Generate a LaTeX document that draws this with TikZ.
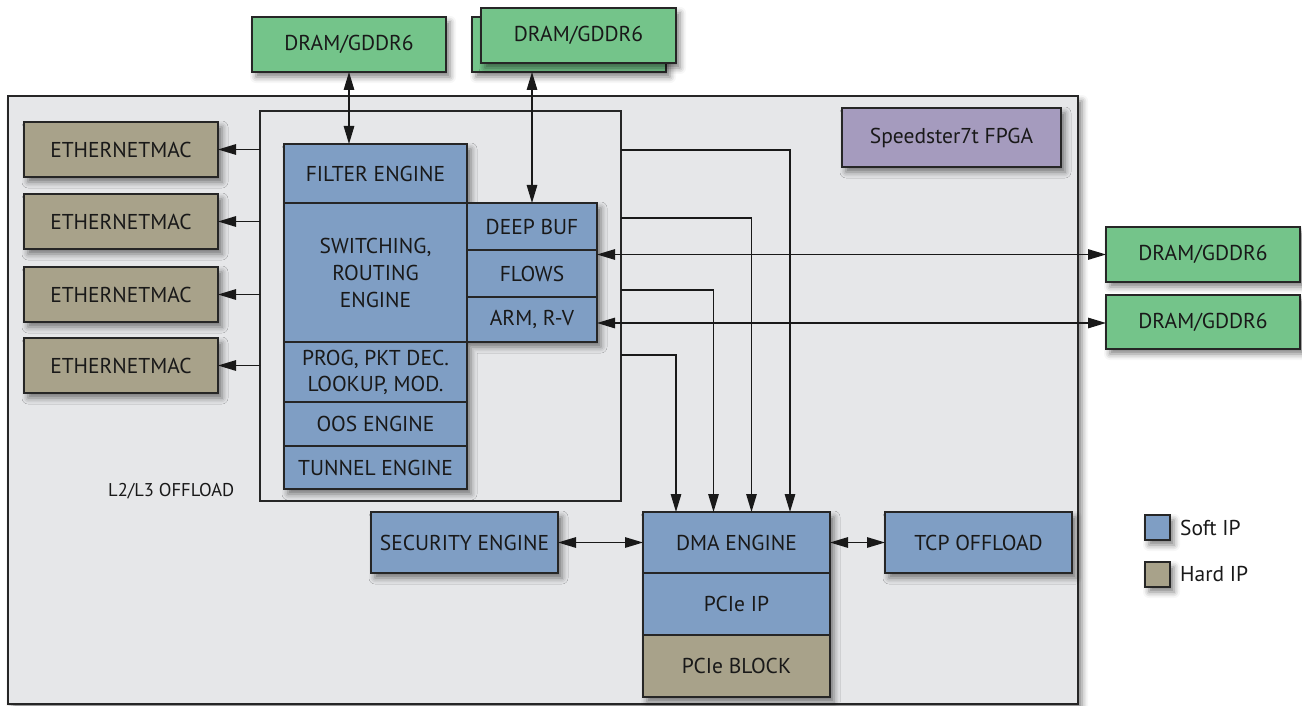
\documentclass[tikz,border=0pt]{standalone}
\usepackage{fontspec}
\setmainfont{PT Sans}
\usetikzlibrary{shadows.blur,arrows.meta,calc}
\definecolor{fpgabg}{HTML}{E6E7E9}
\definecolor{soft}{HTML}{7F9EC4}
\definecolor{hard}{HTML}{A8A28A}
\definecolor{dramc}{HTML}{74C48A}
\definecolor{purp}{HTML}{A59BBE}
\tikzset{
  shad/.style={blur shadow={shadow xshift=4pt, shadow yshift=-5pt, shadow blur radius=6pt, shadow opacity=50}},
  blk/.style={draw=black!85, line width=1.6pt, inner sep=0pt, outer sep=0pt, anchor=north west,
    font=\fontsize{21.5}{24}\selectfont, align=center, text=black!90},
  softb/.style={blk, fill=soft},
  hardb/.style={blk, fill=hard},
  dramb/.style={blk, fill=dramc, shad},
  arr/.style={line width=1.3pt, draw=black!90},
  >={Triangle[length=18pt,width=10.5pt]}
}
\begin{document}
\begin{tikzpicture}[x=1pt,y=-1pt]
\useasboundingbox (0,0) rectangle (1302,706);
% FPGA background
\node[blk, fill=fpgabg, shad, minimum width=1070pt, minimum height=608pt] (fpga) at (8,96) {};
% top DRAMs
\node[dramb, minimum width=194pt, minimum height=55pt] (dramA) at (252,17) {DRAM/GDDR6};
\node[dramb, minimum width=194pt, minimum height=55pt] (dramBb) at (472,17) {};
\node[dramb, minimum width=195pt, minimum height=55pt] (dramB) at (481,8) {DRAM/GDDR6};
% L2/L3 box
\node[draw=black!85, line width=1.3pt, inner sep=0pt, outer sep=0pt, anchor=north west,
  minimum width=361pt, minimum height=390pt] (l2) at (260,111) {};
\node[anchor=west, font=\fontsize{18.5}{20}\selectfont, text=black!90, inner sep=0pt] (l2lab) at (108,491) {L2/L3 OFFLOAD};
% Ethernet MACs
\node[hardb, shad, minimum width=194pt, minimum height=55pt] (eth1) at (24,122) {ETHERNETMAC};
\node[hardb, shad, minimum width=194pt, minimum height=55pt] (eth2) at (24,194) {ETHERNETMAC};
\node[hardb, shad, minimum width=194pt, minimum height=55pt] (eth3) at (24,267) {ETHERNETMAC};
\node[hardb, shad, minimum width=194pt, minimum height=55pt] (eth4) at (24,338) {ETHERNETMAC};
% stack shadow
\path[fill=soft, shad] (284,144) -- (467,144) -- (467,203) -- (597,203) -- (597,342) -- (467,342) -- (467,489) -- (284,489) -- cycle;
\node[softb, minimum width=183pt, minimum height=59pt] (filter) at (284,144) {FILTER ENGINE};
\node[softb, minimum width=183pt, minimum height=139pt, font=\fontsize{21.5}{27}\selectfont] (switch) at (284,203) {SWITCHING,\\ROUTING\\ENGINE};
\node[softb, minimum width=183pt, minimum height=60pt, font=\fontsize{21.5}{26}\selectfont] (prog) at (284,342) {PROG, PKT DEC.\\LOOKUP, MOD.};
\node[softb, minimum width=183pt, minimum height=44pt] (oos) at (284,402) {OOS ENGINE};
\node[softb, minimum width=183pt, minimum height=43pt] (tunnel) at (284,446) {TUNNEL ENGINE};
\node[softb, minimum width=130pt, minimum height=47pt] (deepbuf) at (467,203) {DEEP BUF};
\node[softb, minimum width=130pt, minimum height=47pt] (flows) at (467,250) {FLOWS};
\node[softb, minimum width=130pt, minimum height=45pt] (arm) at (467,297) {ARM, R-V};
% Speedster
\node[blk, fill=purp, shad, minimum width=219pt, minimum height=59pt] (speed) at (842,108) {Speedster7t FPGA};
% right DRAMs
\node[dramb, minimum width=194pt, minimum height=55pt] (dramR1) at (1106,227) {DRAM/GDDR6};
\node[dramb, minimum width=194pt, minimum height=54pt] (dramR2) at (1106,295) {DRAM/GDDR6};
% bottom blocks
\node[softb, shad, minimum width=187pt, minimum height=61pt] (sec) at (371,512) {SECURITY ENGINE};
\path[fill=soft, shad] (643,512) rectangle (830,697);
\node[softb, minimum width=187pt, minimum height=61pt] (dma) at (643,512) {DMA ENGINE};
\node[softb, minimum width=187pt, minimum height=62pt] (pcieip) at (643,573) {PCIe IP};
\node[hardb, minimum width=187pt, minimum height=62pt] (pcieblk) at (643,635) {PCIe BLOCK};
\node[softb, shad, minimum width=187pt, minimum height=61pt] (tcp) at (885,512) {TCP OFFLOAD};
% legend
\node[softb, shad, minimum width=25pt, minimum height=25pt] (leg1) at (1145,515) {};
\node[hardb, shad, minimum width=25pt, minimum height=25pt] (leg2) at (1145,562) {};
\node[anchor=west, font=\fontsize{21.5}{24}\selectfont, inner sep=0pt, text=black!90] (leg1t) at ([xshift=10pt]leg1.east) {Soft IP};
\node[anchor=west, font=\fontsize{21.5}{24}\selectfont, inner sep=0pt, text=black!90] (leg2t) at ([xshift=10pt]leg2.east) {Hard IP};
% connectors
\draw[arr,<->] (dramA.south) -- (dramA.south |- filter.north);
\draw[arr,<->] (deepbuf.north |- dramBb.south) -- (deepbuf.north);
\draw[arr,->] (l2.west |- eth1.east) -- (eth1.east);
\draw[arr,->] (l2.west |- eth2.east) -- (eth2.east);
\draw[arr,->] (l2.west |- eth3.east) -- (eth3.east);
\draw[arr,->] (l2.west |- eth4.east) -- (eth4.east);
\draw[arr,<->] (flows.east |- dramR1.west) -- (dramR1.west);
\draw[arr,<->] ([yshift=-1pt]arm.east |- dramR2.west) -- ([yshift=-1pt]dramR2.west);
\draw[arr,->] ($(l2.north east)+(0,39)$) -| ($(dma.north)+(53.5,0)$);
\draw[arr,->] ($(l2.north east)+(0,107)$) -| ($(dma.north)+(15,0)$);
\draw[arr,->] ($(l2.north east)+(0,179)$) -| ($(dma.north)+(-23,0)$);
\draw[arr,->] ($(l2.north east)+(0,244)$) -| ($(dma.north)+(-60.5,0)$);
\draw[arr,<->] (sec.east) -- (dma.west);
\draw[arr,<->] (dma.east) -- (tcp.west);
\end{tikzpicture}
\end{document}
